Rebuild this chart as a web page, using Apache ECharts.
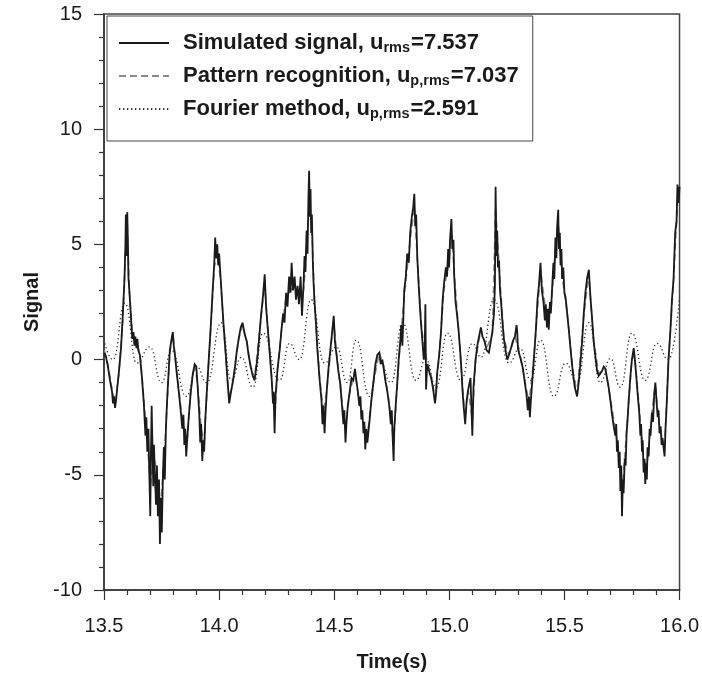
<!DOCTYPE html>
<html>
<head>
<meta charset="utf-8">
<script src="https://cdn.jsdelivr.net/npm/echarts@6/dist/echarts.min.js"></script>
<style>
  html, body { margin: 0; padding: 0; background: #fff; }
  #chart { width: 702px; height: 679px; }
</style>
</head>
<body>
<div id="chart"></div>
<script>
// ---- Data ----
const xTicks = [13.5, 14.0, 14.5, 15.0, 15.5, 16.0];
const yTicks = [-10, -5, 0, 5, 10, 15];

const simTime = [13.502,13.509,13.517,13.526,13.535,13.539,13.543,13.548,13.552,13.558,13.565,13.574,13.582,13.589,13.593,13.595,13.598,13.601,13.604,13.606,13.610,13.615,13.619,13.623,13.628,13.632,13.636,13.641,13.645,13.649,13.656,13.665,13.673,13.680,13.684,13.688,13.693,13.697,13.701,13.704,13.707,13.710,13.714,13.717,13.721,13.726,13.730,13.734,13.739,13.743,13.747,13.751,13.756,13.760,13.764,13.769,13.773,13.777,13.782,13.786,13.792,13.799,13.803,13.808,13.816,13.825,13.834,13.840,13.845,13.849,13.853,13.857,13.862,13.868,13.877,13.886,13.894,13.901,13.907,13.914,13.918,13.922,13.927,13.931,13.935,13.940,13.946,13.955,13.964,13.972,13.979,13.983,13.987,13.992,13.996,14.000,14.007,14.013,14.020,14.029,14.037,14.044,14.050,14.059,14.068,14.076,14.085,14.094,14.102,14.111,14.120,14.128,14.137,14.146,14.154,14.167,14.182,14.191,14.198,14.204,14.211,14.219,14.228,14.234,14.237,14.241,14.245,14.254,14.263,14.271,14.278,14.284,14.291,14.297,14.304,14.310,14.315,14.321,14.328,14.334,14.341,14.347,14.354,14.360,14.367,14.371,14.375,14.380,14.384,14.388,14.391,14.394,14.397,14.400,14.403,14.407,14.410,14.414,14.421,14.427,14.436,14.445,14.449,14.453,14.458,14.462,14.468,14.475,14.484,14.492,14.498,14.503,14.510,14.518,14.527,14.533,14.540,14.544,14.549,14.553,14.559,14.566,14.575,14.583,14.590,14.596,14.603,14.609,14.614,14.618,14.622,14.627,14.631,14.635,14.640,14.644,14.653,14.661,14.670,14.679,14.687,14.696,14.702,14.709,14.715,14.722,14.731,14.739,14.746,14.750,14.754,14.758,14.761,14.767,14.774,14.780,14.787,14.791,14.796,14.800,14.804,14.811,14.817,14.824,14.830,14.837,14.843,14.848,14.852,14.856,14.861,14.867,14.874,14.880,14.889,14.893,14.896,14.899,14.904,14.912,14.921,14.930,14.938,14.943,14.947,14.956,14.964,14.971,14.977,14.985,14.990,14.995,14.999,15.003,15.009,15.013,15.018,15.021,15.027,15.034,15.040,15.047,15.053,15.057,15.062,15.069,15.075,15.082,15.092,15.100,15.105,15.114,15.123,15.129,15.137,15.144,15.153,15.162,15.172,15.187,15.194,15.198,15.201,15.205,15.208,15.211,15.216,15.220,15.224,15.231,15.237,15.246,15.252,15.259,15.268,15.276,15.285,15.292,15.295,15.298,15.302,15.311,15.320,15.328,15.335,15.341,15.346,15.350,15.354,15.360,15.367,15.376,15.383,15.389,15.396,15.402,15.409,15.415,15.419,15.424,15.428,15.432,15.437,15.441,15.447,15.452,15.456,15.461,15.465,15.468,15.473,15.476,15.480,15.483,15.487,15.490,15.495,15.500,15.505,15.510,15.519,15.528,15.536,15.545,15.555,15.562,15.569,15.577,15.584,15.591,15.598,15.606,15.613,15.620,15.627,15.636,15.642,15.649,15.656,15.663,15.671,15.678,15.685,15.692,15.700,15.707,15.714,15.721,15.725,15.728,15.732,15.736,15.740,15.743,15.747,15.750,15.754,15.757,15.762,15.766,15.770,15.775,15.779,15.786,15.793,15.801,15.805,15.812,15.818,15.825,15.830,15.833,15.837,15.840,15.844,15.848,15.851,15.855,15.858,15.861,15.866,15.870,15.874,15.880,15.885,15.890,15.895,15.900,15.905,15.909,15.913,15.918,15.922,15.926,15.935,15.939,15.945,15.952,15.960,15.967,15.974,15.981,15.987,15.991,15.996,16.000];
const simSignal = [0.3,0.1,-0.3,-0.9,-1.4,-1.9,-1.6,-2.1,-1.8,-1.2,-0.5,0.5,2.0,3.5,5.0,6.3,4.5,6.4,5.0,3.6,3.0,2.2,1.5,0.9,1.2,0.6,1.0,0.5,0.9,0.4,0.2,-0.8,-1.9,-3.3,-2.5,-4.0,-3.0,-5.0,-6.8,-4.0,-2.0,-3.5,-5.5,-3.7,-5.0,-6.3,-4.6,-6.8,-5.2,-8.0,-6.0,-7.5,-5.0,-3.8,-5.2,-3.0,-2.0,-1.2,-0.3,0.4,0.8,1.2,0.6,0.2,-0.6,-1.4,-2.3,-3.0,-2.4,-3.7,-3.0,-4.2,-3.4,-2.5,-1.4,-0.6,-0.2,-0.3,-1.2,-2.4,-3.6,-2.8,-4.4,-3.5,-4.0,-2.6,-1.5,0.0,1.5,3.0,4.2,5.3,4.4,5.0,4.1,4.6,3.5,2.5,1.4,0.2,-1.0,-1.9,-1.5,-1.0,-0.4,0.3,0.9,1.4,1.6,1.1,0.8,0.2,-0.3,-0.7,-0.9,0.1,1.9,2.8,3.7,2.3,1.4,0.4,-0.8,-1.9,-1.4,-3.2,-1.6,-0.4,0.4,1.3,2.0,1.6,2.9,2.3,3.6,2.9,4.2,3.0,3.6,2.6,3.2,2.4,3.6,1.9,3.3,4.5,3.8,5.6,4.6,7.0,8.2,6.2,7.4,5.5,6.3,4.3,3.4,2.6,1.5,0.4,-0.8,-1.8,-2.8,-2.0,-3.2,-2.3,-1.3,-0.4,0.5,1.3,1.9,0.8,0.2,-0.5,-1.1,-1.9,-2.8,-2.2,-3.6,-2.8,-2.0,-1.5,-0.8,-0.9,-0.4,-0.9,-1.4,-2.0,-1.6,-2.6,-2.2,-3.2,-2.7,-3.9,-3.0,-3.6,-2.7,-1.8,-1.0,-0.2,0.2,0.3,-0.2,0.0,-0.4,-0.9,-1.4,-2.0,-2.8,-2.2,-3.4,-4.4,-3.0,-2.0,-1.0,0.0,0.8,1.5,0.6,1.7,3.0,3.6,4.6,4.2,5.5,6.2,6.6,7.2,5.8,6.3,4.4,3.2,2.0,1.2,0.0,0.4,2.4,-1.3,-0.2,-0.5,-0.8,-1.3,-1.9,-1.4,-0.6,0.2,1.2,2.6,3.3,4.0,3.6,4.8,4.0,5.2,6.1,4.8,5.2,3.7,2.5,1.9,1.3,0.4,-0.5,-1.3,-2.0,-2.8,-1.8,-1.3,-0.8,-3.3,-1.2,0.0,0.7,1.0,1.4,1.0,0.8,0.4,0.3,1.2,2.0,3.2,7.5,4.5,5.6,4.0,4.3,3.0,2.6,1.6,0.9,0.3,0.0,0.2,0.5,0.8,1.0,1.5,1.2,0.5,0.3,0.0,-0.4,-1.0,-1.5,-2.2,-1.6,-2.5,-1.8,-1.0,0.0,1.3,2.6,3.2,4.2,3.0,2.5,1.7,2.4,1.4,2.2,1.3,2.5,2.0,3.2,4.2,3.5,5.3,4.4,5.7,6.5,4.8,5.5,4.1,4.8,3.5,4.0,2.9,2.7,2.2,1.3,0.3,-0.5,-1.2,-1.6,-1.0,-0.2,0.8,2.0,2.9,3.5,3.9,2.7,1.8,0.8,0.0,-0.5,-0.7,-0.6,-0.5,-0.3,-0.4,-0.8,-1.2,-1.8,-2.4,-2.9,-3.3,-2.8,-4.0,-3.5,-4.7,-4.0,-5.7,-4.6,-6.8,-5.2,-5.8,-4.3,-4.6,-3.2,-2.5,-1.8,-0.8,0.0,0.5,0.1,-0.7,-1.5,-2.3,-3.3,-2.8,-4.0,-3.5,-4.9,-4.3,-5.4,-4.5,-5.2,-3.8,-4.2,-3.0,-3.3,-2.3,-2.7,-1.5,-1.0,-1.8,-2.5,-2.2,-3.2,-2.9,-3.7,-3.4,-4.2,-3.0,-1.8,0.0,1.2,2.6,3.5,5.5,6.0,7.6,6.8,7.5];

const patTime = [13.502,13.517,13.535,13.548,13.565,13.582,13.593,13.601,13.610,13.623,13.641,13.656,13.673,13.688,13.701,13.717,13.730,13.743,13.756,13.769,13.786,13.799,13.816,13.834,13.849,13.862,13.877,13.894,13.907,13.922,13.935,13.946,13.964,13.979,13.992,14.007,14.020,14.037,14.044,14.059,14.085,14.102,14.120,14.137,14.154,14.182,14.198,14.211,14.228,14.241,14.254,14.271,14.291,14.310,14.328,14.347,14.367,14.380,14.391,14.403,14.414,14.436,14.453,14.468,14.492,14.498,14.510,14.533,14.549,14.566,14.590,14.609,14.627,14.644,14.670,14.696,14.715,14.739,14.758,14.774,14.791,14.811,14.830,14.848,14.861,14.880,14.899,14.921,14.938,14.956,14.977,14.999,15.009,15.021,15.040,15.062,15.069,15.082,15.100,15.114,15.137,15.162,15.187,15.201,15.216,15.237,15.259,15.285,15.302,15.328,15.346,15.367,15.396,15.419,15.441,15.461,15.473,15.490,15.510,15.536,15.555,15.584,15.606,15.627,15.649,15.678,15.700,15.721,15.736,15.750,15.770,15.793,15.805,15.825,15.844,15.858,15.880,15.895,15.913,15.935,15.952,15.974,15.991,16.000];
const patSignal = [0.4,-0.2,-1.3,-1.9,-0.6,1.8,4.6,5.8,3.0,1.2,0.7,0.3,-1.7,-3.5,-5.5,-4.2,-5.0,-6.8,-5.0,-2.9,0.3,1.1,-0.5,-2.1,-3.2,-3.4,-1.3,-0.2,-1.1,-3.0,-3.6,-1.6,1.4,4.0,4.6,3.4,1.4,-0.9,-1.7,-1.0,0.9,1.5,0.8,-0.3,-0.8,1.8,3.3,1.4,-0.7,-2.6,-0.4,1.3,2.7,3.0,3.3,2.7,3.0,4.8,6.9,5.6,2.6,-0.7,-2.3,-1.3,1.2,1.7,0.3,-1.8,-3.0,-1.5,-0.5,-1.9,-2.8,-3.3,-1.0,0.3,-0.3,-1.9,-3.6,-1.0,1.3,3.4,5.2,6.6,4.4,1.3,0.1,-0.7,-1.7,0.2,3.1,4.2,5.6,3.8,1.3,-1.8,-2.5,-1.3,-2.6,0.0,1.3,0.5,1.1,6.6,4.1,0.9,0.2,1.0,0.4,-0.9,-1.9,0.0,3.9,2.1,2.1,4.8,5.9,3.6,2.2,-0.4,-1.5,1.9,3.7,0.8,-0.6,-0.4,-1.7,-3.0,-4.2,-5.9,-3.1,0.0,0.2,-2.1,-4.3,-4.8,-2.3,-1.1,-2.9,-3.9,0.0,3.4,6.8,7.0];

const fourTime = [13.504,13.539,13.591,13.642,13.699,13.750,13.793,13.858,13.902,13.946,14.010,14.053,14.097,14.147,14.190,14.263,14.306,14.349,14.400,14.458,14.510,14.557,14.596,14.653,14.696,14.747,14.797,14.855,14.898,14.943,14.992,15.050,15.100,15.138,15.194,15.259,15.307,15.354,15.396,15.454,15.505,15.555,15.606,15.656,15.700,15.743,15.793,15.851,15.902,15.952,16.000];
const fourSignal = [0.7,0.0,2.45,-0.15,0.55,-1.0,0.4,-1.6,-0.3,-1.0,1.6,-0.9,0.1,-1.2,1.15,-0.9,0.7,0.0,2.6,-0.15,0.55,-1.0,0.85,-1.6,0.0,-1.0,1.6,-0.9,0.0,-1.2,1.15,-0.9,0.7,0.1,2.6,-0.15,0.5,-0.9,0.85,-1.6,-0.15,-1.0,1.6,-1.0,0.05,-1.2,1.15,-0.9,0.7,0.0,2.7];

const seriesNames = ['Simulated signal', 'Pattern recognition', 'Fourier method'];
const legendSubs = ['rms', 'p,rms', 'p,rms'];
const legendValues = ['7.537', '7.037', '2.591'];

function zip(a, b) { return a.map((t, i) => [t, b[i]]); }

const FONT = '"Liberation Sans", Arial, Helvetica, sans-serif';
const chart = echarts.init(document.getElementById('chart'), null, { renderer: 'canvas' });

chart.setOption({
  animation: false,
  backgroundColor: '#ffffff',
  textStyle: { fontFamily: FONT },
  grid: { left: 104, top: 14, width: 577, height: 576, show: true, borderColor: '#444', borderWidth: 1.5, backgroundColor: 'transparent' },
  legend: {
    orient: 'vertical',
    left: 107, top: 16,
    padding: [16, 14, 20, 11],
    itemGap: 10,
    itemWidth: 50, itemHeight: 14,
    backgroundColor: '#ffffff',
    borderColor: '#444', borderWidth: 1,
    itemStyle: { color: 'rgba(0,0,0,0)', opacity: 0, borderWidth: 0 },
    data: seriesNames,
    formatter: function (name) {
      const i = seriesNames.indexOf(name);
      return '{b|' + name + ', u}{s|' + legendSubs[i] + '}{b|=' + legendValues[i] + '}';
    },
    textStyle: {
      padding: [0, 0, 0, 9],
      rich: {
        b: { fontFamily: FONT, fontWeight: 'bold', fontSize: 22, color: '#1a1a1a', lineHeight: 24, verticalAlign: 'middle' },
        s: { fontFamily: FONT, fontWeight: 'bold', fontSize: 14.5, color: '#1a1a1a', lineHeight: 24, verticalAlign: 'bottom', padding: [0, 1, 0, 0] }
      }
    }
  },
  xAxis: {
    type: 'value', min: 13.5, max: 16.0, interval: 0.5,
    name: 'Time(s)', nameLocation: 'middle', nameGap: 62,
    nameTextStyle: { fontFamily: FONT, fontWeight: 'bold', fontSize: 20, color: '#1a1a1a' },
    axisLine: { show: true, onZero: false, lineStyle: { color: '#333', width: 1.5 } },
    axisTick: { show: true, length: 10, lineStyle: { color: '#333', width: 1.2 } },
    minorTick: { show: true, splitNumber: 5, length: 5, lineStyle: { color: '#333', width: 1.2 } },
    splitLine: { show: false },
    axisLabel: { margin: 26, fontSize: 20, color: '#1a1a1a', fontFamily: FONT, formatter: v => v.toFixed(1) }
  },
  yAxis: {
    type: 'value', min: -10, max: 15, interval: 5,
    name: 'Signal', nameLocation: 'middle', nameGap: 61,
    nameTextStyle: { fontFamily: FONT, fontWeight: 'bold', fontSize: 20, color: '#1a1a1a' },
    axisLine: { show: true, onZero: false, lineStyle: { color: '#333', width: 1.5 } },
    axisTick: { show: true, length: 10, lineStyle: { color: '#333', width: 1.2 } },
    minorTick: { show: true, splitNumber: 5, length: 5, lineStyle: { color: '#333', width: 1.2 } },
    splitLine: { show: false },
    axisLabel: { margin: 22, fontSize: 20, color: '#1a1a1a', fontFamily: FONT }
  },
  series: [
    {
      name: seriesNames[2], type: 'line', data: zip(fourTime, fourSignal),
      symbol: 'none', smooth: 0.5, smoothMonotone: 'x', z: 1,
      lineStyle: { color: '#333', width: 1.3, type: [1.3, 2.7] }
    },
    {
      name: seriesNames[1], type: 'line', data: zip(patTime, patSignal),
      symbol: 'none', z: 2,
      lineStyle: { color: '#8a8a8a', width: 1.6, type: [7, 4] }
    },
    {
      name: seriesNames[0], type: 'line', data: zip(simTime, simSignal),
      symbol: 'none', z: 3,
      lineStyle: { color: '#1a1a1a', width: 1.8, type: 'solid', join: 'miter', miterLimit: 3 }
    }
  ]
});
</script>
</body>
</html>
